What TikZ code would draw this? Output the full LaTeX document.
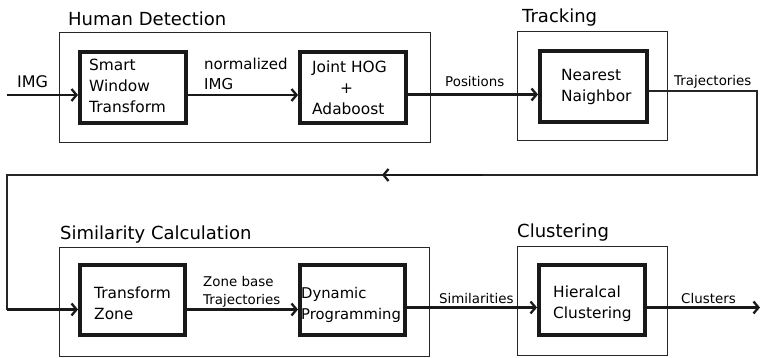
\documentclass[tikz,border=0pt]{standalone}
\usepackage{fontspec}
\setmainfont{DejaVu Sans}
\usetikzlibrary{arrows.meta}
\newcommand\mlines[1]{\begin{tabular}[t]{@{}l@{}}#1\end{tabular}}
\begin{document}
\begin{tikzpicture}[x=1pt,y=-1pt,
  outerbox/.style={draw=black!85,line width=1.2pt,rectangle,inner sep=0pt},
  innerbox/.style={draw=black!90,line width=4pt,rectangle,inner sep=0pt,minimum width=106pt,minimum height=71pt},
  txt/.style={anchor=base west,inner sep=0pt,text=black},
  ttl/.style={txt,font=\fontsize{18}{21}\selectfont},
  btxt/.style={txt,font=\fontsize{15.4}{21}\selectfont},
  ltxt/.style={txt,font=\fontsize{13.4}{18}\selectfont},
  arrowline/.style={draw=black!90,line width=2.3pt,-{Straight Barb[length=5pt,width=12pt]}},
  thinline/.style={draw=black!85,line width=1.2pt}]
\useasboundingbox (0,0) rectangle (760,358);
% outer group boxes
\node[outerbox,minimum width=371pt,minimum height=110pt] (hd) at (245,87.5) {};
\node[outerbox,minimum width=150pt,minimum height=109pt] (tr) at (592.5,86) {};
\node[outerbox,minimum width=370pt,minimum height=109pt] (sc) at (244.5,302) {};
\node[outerbox,minimum width=150pt,minimum height=109pt] (cl) at (592.5,301) {};
% titles
\node[ttl] (hdt) at (68,26) {Human Detection};
\node[ttl] (trt) at (522,22.5) {Tracking};
\node[ttl] (sct) at (60,240) {Similarity Calculation};
\node[ttl] (clt) at (517,237) {Clustering};
% inner boxes
\node[innerbox] (swt) at (133,87.5) {};
\node[innerbox] (jh) at (353,87.5) {};
\node[innerbox,minimum width=107pt] (nn) at (593.5,86.5) {};
\node[innerbox,minimum width=105pt,minimum height=70pt] (tz) at (132.5,300) {};
\node[innerbox,minimum width=105pt,minimum height=70pt] (dp) at (352.5,300) {};
\node[innerbox,minimum height=70pt] (hc) at (592,300) {};
% box texts
\node[btxt] (swtt) at (89,71) {\mlines{Smart\\Window\\Transform}};
\node[btxt] (jht) at (312,73) {\mlines{Joint HOG\\\hspace{28pt}+\\Adaboost}};
\node[btxt] (nnt) at (561,81) {\mlines{Nearest\\Naighbor}};
\node[btxt] (tzt) at (94,298) {\mlines{Transform\\Zone}};
\node[btxt,font=\fontsize{14.8}{21}\selectfont] (dpt) at (301,298) {\mlines{Dynamic\\Programming}};
\node[btxt] (hct) at (553,297) {\mlines{Hieralcal\\Clustering}};
% labels
\node[txt,font=\fontsize{16}{20}\selectfont] (imgl) at (17,88) {IMG};
\node[txt,font=\fontsize{15}{20}\selectfont] (nil) at (204,70) {\mlines{normalized\\IMG}};
\node[ltxt] (posl) at (445,87) {Positions};
\node[ltxt] (trjl) at (674,86) {Trajectories};
\node[ltxt] (zbl) at (203,286) {\mlines{Zone base\\Trajectories}};
\node[ltxt] (siml) at (439,303) {Similarities};
\node[ltxt] (clsl) at (681,303) {Clusters};
% coordinates
\coordinate (imgin) at (7,95);
\coordinate (rowA) at (0,94.5);
\coordinate (rowB) at (0,309.5);
\coordinate (rowC) at (0,307.5);
\coordinate (fbR) at (757,175);
\coordinate (fbL) at (7,175);
\coordinate (fbB) at (7,309.5);
\coordinate (fbA) at (483,175);
\coordinate (fbT) at (382,175);
\coordinate (outC) at (760,307.5);
% connectors
\draw[arrowline] (imgin) -- (imgin -| swt.west);
\draw[arrowline] (swt.east |- imgin) -- (jh.west |- imgin);
\draw[arrowline] (jh.east |- rowA) -- (nn.west |- rowA);
\draw[thinline] ([yshift=-4.5pt]nn.east) -| (fbR) -- (fbL) -- (fbB);
\draw[arrowline] (fbA) -- (fbT);
\draw[arrowline] (fbB) -- (tz.west |- fbB);
\draw[arrowline] (tz.east |- rowB) -- (dp.west |- rowB);
\draw[arrowline] (dp.east |- rowC) -- (hc.west |- rowC);
\draw[arrowline] (hc.east |- rowC) -- (outC);
\end{tikzpicture}
\end{document}
